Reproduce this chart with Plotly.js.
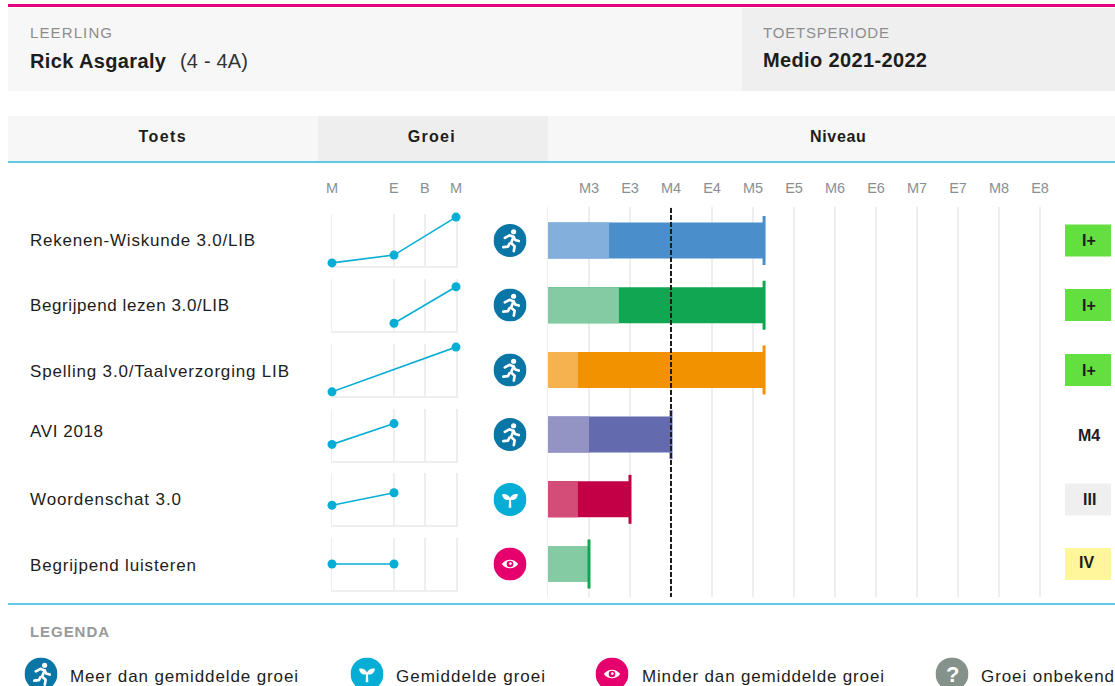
<!DOCTYPE html>
<html>
<head>
<meta charset="utf-8">
<script src="https://cdn.plot.ly/plotly-3.0.1.min.js"></script>
<style>
html,body{margin:0;padding:0;background:#fff;overflow:hidden}
#chart{width:1115px;height:686px}
</style>
</head>
<body>
<div id="chart"></div>
<script>
// ---- data ----
const tests = ['Rekenen-Wiskunde 3.0/LIB','Begrijpend lezen 3.0/LIB','Spelling 3.0/Taalverzorging LIB','AVI 2018','Woordenschat 3.0','Begrijpend luisteren'];
const levelTicks = ['M3','E3','M4','E4','M5','E5','M6','E6','M7','E7','M8','E8'];
const levelPos = [1,2,3,4,5,6,7,8,9,10,11,12];
const previousLevel = [1.49,1.73,0.73,1.0,0.73,1.0];
const currentLevel = [5.27,5.27,5.27,3.0,2.0,1.0];
const lightColors = ['#82afdc','#84cba4','#f6b24f','#9393c4','#d44c78','#84cba4'];
const darkColors = ['#4a8ecc','#11a651','#f39200','#636bae','#c30045','#11a651'];
const referenceLevel = 3;
const growthTickLabels = ['M','E','B','M'];
const growthTickPos = [0,1,1.5,2];
const growthX = [[0,1,2],[1,2],[0,2],[0,1],[0,1],[0,1]];
const growthY = [[0.06,0.21,0.94],[0.15,0.85],[0.08,0.94],[0.31,0.71],[0.38,0.62],[0.5,0.5]];
const growthClass = ['meer','meer','meer','meer','gemiddeld','minder'];
const niveauLabels = ['I+','I+','I+','M4','III','IV'];
const niveauColors = ['#63e03f','#63e03f','#63e03f',null,'#efefef','#fff59b'];
const legendItems = ['Meer dan gemiddelde groei','Gemiddelde groei','Minder dan gemiddelde groei','Groei onbekend'];
const legendClass = ['meer','gemiddeld','minder','onbekend'];

// ---- layout helpers (page pixels to paper fractions) ----
const W = 1115, H = 686;
const px = x => x / W, py = y => 1 - y / H;
const rowY = [240.5,305,370,434.5,499.5,564];
const sparkTop = [214,279,344,408.5,473,538];
const sparkH = 52;
const rowTextY = [240,306,371,431,500,565];
const niveauLabelY = [240,305,370,435,499,562];
const niveauLabelX = [1089,1089,1089,1089,1089,1086];
// rendered text widths in the page, used to set letter spacing
const textWidths = {
  'Rekenen-Wiskunde 3.0/LIB':225,'Begrijpend lezen 3.0/LIB':199,'Spelling 3.0/Taalverzorging LIB':259,'AVI 2018':73,
  'Woordenschat 3.0':151,'Begrijpend luisteren':166,'Meer dan gemiddelde groei':228,'Gemiddelde groei':149,
  'Minder dan gemiddelde groei':242,'Groei onbekend':133,'LEERLING':82,'TOETSPERIODE':126,'LEGENDA':79,
  'Rick Asgaraly':136,'(4 - 4A)':68,'Medio 2021-2022':164,'Toets':47,'Groei':47,'Niveau':56
};

function text(x, y, t, o) {
  o = o || {};
  const centered = o.anchor==='center';
  return {xref:'paper', yref:'paper', x:px(centered?x:x-1), y:py(y), text:t, showarrow:false, borderpad:0,
    xanchor:o.anchor||'left', align:centered?'center':'left', yanchor:'middle',
    font:{family:'Liberation Sans, Arial, sans-serif', size:o.size||17, color:o.color||'#1d1d1b', weight:o.weight||400}};
}
function rect(x0,y0,x1,y1,color){
  return {type:'rect',xref:'paper',yref:'paper',x0:px(x0),x1:px(x1),y0:py(y0),y1:py(y1),fillcolor:color,line:{width:0},layer:'below'};
}
const glyph = {
  meer:'<g fill="none" stroke="#fff" stroke-width="2.6" stroke-linecap="round" stroke-linejoin="round"><path d="M11 13.5l4.5-2.5 4 1.5-2.5 6 3.5 3-.8 4.8"/><path d="M19.5 12.5l1.5 3 3.5 1"/><path d="M15.5 19l-1.5 3-4.5.5"/></g><circle cx="19.5" cy="7.5" r="2.5" fill="#fff"/>',
  gemiddeld:'<g fill="#fff" transform="translate(3.2 3.2) scale(.8)"><path d="M14.4 26h3.2l-.4-9.5c4.5.4 7.8-1.8 8.3-7-4.2-.6-7.6.6-9.5 4.6-1.9-4-5.3-5.2-9.5-4.6.5 5.2 3.8 7.4 8.3 7z"/></g>',
  minder:'<g transform="translate(3.2 3.2) scale(.8)"><path d="M6 16c5.5-7 14.5-7 20 0-5.5 7-14.5 7-20 0z" fill="#fff"/><circle cx="16" cy="16" r="4" fill="#e6006e"/><circle cx="16.5" cy="15.5" r="1.6" fill="#fff"/></g>',
  onbekend:''
};
const iconFill = {meer:'#0a76a5',gemiddeld:'#06aed5',minder:'#e6006e',onbekend:'#85918b'};
function icon(cls,cx,cy){
  const svg = '<svg xmlns="http://www.w3.org/2000/svg" width="32" height="32" viewBox="0 0 32 32"><circle cx="16" cy="16" r="16" fill="'+iconFill[cls]+'"/>'+glyph[cls]+'</svg>';
  return {source:'data:image/svg+xml;utf8,'+encodeURIComponent(svg),xref:'paper',yref:'paper',x:px(cx),y:py(cy),
    sizex:33/W,sizey:33/H,xanchor:'center',yanchor:'middle',sizing:'stretch',layer:'above'};
}

// ---- traces ----
const traces = [];
traces.push({type:'bar',orientation:'h',y:tests,x:currentLevel,width:0.556,marker:{color:darkColors},xaxis:'x',yaxis:'y',hoverinfo:'skip',showlegend:false});
traces.push({type:'bar',orientation:'h',y:tests,x:previousLevel,width:0.556,marker:{color:lightColors},xaxis:'x',yaxis:'y',hoverinfo:'skip',showlegend:false});
traces.push({type:'scatter',mode:'markers',y:tests,x:currentLevel,xaxis:'x',yaxis:'y',cliponaxis:false,hoverinfo:'skip',showlegend:false,
  marker:{symbol:'line-ns',size:35,color:darkColors,line:{width:3,color:darkColors}}});
tests.forEach((t,i)=>{
  traces.push({type:'scatter',mode:'lines+markers',x:growthX[i],y:growthY[i],xaxis:'x'+(i+2),yaxis:'y'+(i+2),cliponaxis:false,
    hoverinfo:'skip',showlegend:false,line:{color:'#06aed5',width:1.6},marker:{color:'#06aed5',size:9}});
});

// ---- layout ----
const layout = {
  width:W,height:H,margin:{l:0,r:0,t:0,b:0},paper_bgcolor:'#fff',plot_bgcolor:'rgba(0,0,0,0)',
  barmode:'overlay',showlegend:false,hovermode:false,
  xaxis:{domain:[px(548),1],range:[0,567/41],side:'top',tickmode:'array',tickvals:levelPos,ticktext:levelTicks,layer:'below traces',
    showgrid:true,gridcolor:'#eeeeee',gridwidth:1.5,zeroline:false,showline:false,ticks:'outside',ticklen:7,tickcolor:'rgba(0,0,0,0)',
    tickfont:{family:'Liberation Sans, Arial, sans-serif',size:14.5,color:'#8a8f93'}},
  yaxis:{domain:[py(597),py(207)],type:'category',categoryorder:'array',categoryarray:tests,range:[5.51,-0.518],layer:'below traces',showticklabels:false,showgrid:false,zeroline:false,showline:true,linecolor:'#eeeeee',linewidth:1.5,ticks:''},
  shapes:[
    rect(8,8,742,91,'#f7f7f7'),
    rect(742,8,1115,91,'#efefef'),
    rect(8,116,318,161,'#f7f7f7'),
    rect(318,116,548,161,'#eeeeee'),
    rect(548,116,1115,161,'#f7f7f7'),
    rect(8,4,1115,7,'#e6007e'),
    rect(8,161,1115,163,'#5fcbe3'),
    rect(8,603,1115,605,'#5fcbe3'),
    {type:'line',xref:'x',yref:'paper',x0:referenceLevel,x1:referenceLevel,y0:py(208),y1:py(597),line:{color:'#1d1d1b',width:2,dash:'5px,2px'},layer:'above'}
  ],
  annotations:[
    text(30,33,'LEERLING',{size:15,color:'#8d8d8d'}),
    text(30,61,'Rick Asgaraly',{size:20,weight:700}),
    text(180,61,'(4 - 4A)',{size:20,color:'#333'}),
    text(763,33,'TOETSPERIODE',{size:15,color:'#8d8d8d'}),
    text(763,60,'Medio 2021-2022',{size:20,weight:700}),
    text(163,137,'Toets',{anchor:'center',weight:700,size:16}),
    text(432,137,'Groei',{anchor:'center',weight:700,size:16}),
    text(838,137,'Niveau',{anchor:'center',weight:700,size:16}),
    text(30,631,'LEGENDA',{size:15,color:'#999',weight:700})
  ],
  images:[]
};
tests.forEach((t,i)=>{
  const n = i+2;
  layout['xaxis'+n] = {domain:[px(332),px(456)],range:[0,2],anchor:'y'+n,tickmode:'array',tickvals:growthTickPos,showticklabels:false,ticks:'',layer:'below traces',
    showgrid:true,gridcolor:'#eeeeee',gridwidth:1.5,zeroline:false,showline:true,linecolor:'#eeeeee',linewidth:2};
  layout['yaxis'+n] = {domain:[py(sparkTop[i]+sparkH),py(sparkTop[i])],range:[0,1],anchor:'x'+n,layer:'below traces',showticklabels:false,ticks:'',showgrid:false,zeroline:false,showline:true,mirror:true,linecolor:'#eeeeee',linewidth:1.5};
  layout.annotations.push(text(30,rowTextY[i],t));
  layout.images.push(icon(growthClass[i],510,rowY[i]));
  if(niveauColors[i]) layout.shapes.push(rect(1065,rowY[i]-16,1111,rowY[i]+16,niveauColors[i]));
  layout.annotations.push(text(niveauLabelX[i],niveauLabelY[i],niveauLabels[i],{anchor:'center',weight:700,size:16}));
});
growthTickLabels.forEach((l,i)=>{
  layout.annotations.push({xref:'x2',yref:'paper',x:growthTickPos[i],y:py(188),text:l,showarrow:false,xanchor:'center',yanchor:'middle',
    font:{family:'Liberation Sans, Arial, sans-serif',size:14.5,color:'#8a8f93'}});
});
const legendIconX = [41,367,612,952], legendTextX = [70,396,642,981];
legendItems.forEach((l,i)=>{
  layout.images.push(icon(legendClass[i],legendIconX[i],674));
  layout.annotations.push(text(legendTextX[i],676,l));
});
layout.annotations.push(text(952,674,'?',{anchor:'center',size:22,weight:700,color:'#fff'}));

Plotly.newPlot('chart',traces,layout,{staticPlot:true,displayModeBar:false}).then(()=>{
  document.querySelectorAll('#chart .annotation-text').forEach(el=>{
    const t = el.textContent, target = textWidths[t];
    if(target && t.length>1){
      el.style.letterSpacing = ((target-el.getComputedTextLength())/(t.length-1)).toFixed(3)+'px';
    }
  });
});
</script>
</body>
</html>
